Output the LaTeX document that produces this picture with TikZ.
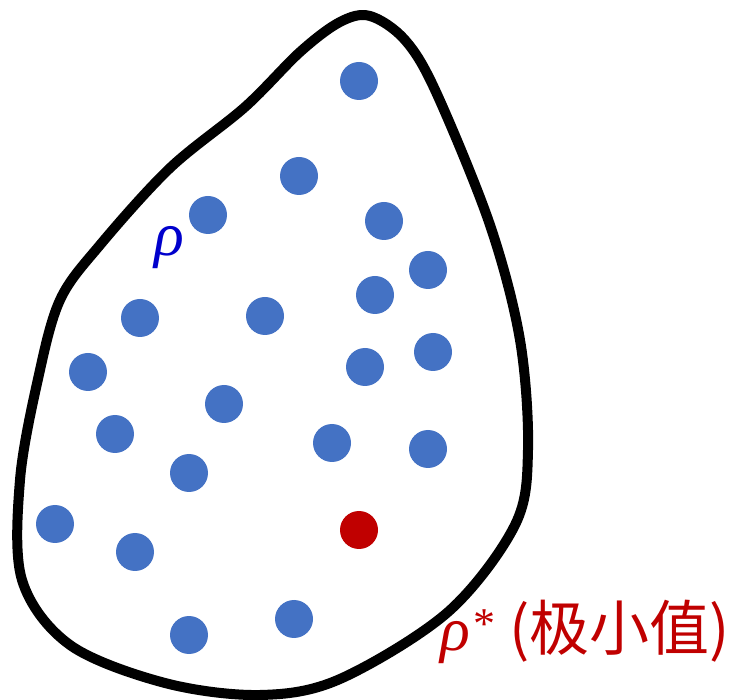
\documentclass[tikz,border=0pt]{standalone}
\usepackage{fontspec}
\newfontfamily\cjk{Noto Sans CJK SC}
\newfontfamily\grk{Liberation Serif}
\definecolor{dotblue}{HTML}{4472C4}
\definecolor{dotred}{HTML}{C00000}
\definecolor{rhoblue}{HTML}{0000CC}
\begin{document}
\begin{tikzpicture}[x=1pt,y=-1pt,
  dot/.style={circle, fill=dotblue, minimum size=38pt, inner sep=0pt},
  reddot/.style={circle, fill=dotred, minimum size=38pt, inner sep=0pt},
  lbl/.style={inner sep=0pt, anchor=base west, font=\fontsize{62}{62}\selectfont}]
\useasboundingbox (0,0) rectangle (737,700);
\draw[line width=10pt, line join=round] plot[smooth cycle, tension=0.55] coordinates {
 (370,16) (405,40) (436,92) (490,225) (520,340) (528,450) (515,525) (448,612)
 (340,679) (260,695) (165,683) (70,645) (22,580) (20,480) (38,379) (60,300)
 (100,245) (170,168) (245,107) (300,52) (340,22)};
\node[dot] (d1) at (359,81) {};
\node[dot] (d2) at (299,176) {};
\node[dot] (d3) at (208,215) {};
\node[dot] (d4) at (384,221) {};
\node[dot] (d5) at (428,270) {};
\node[dot] (d6) at (375,295) {};
\node[dot] (d7) at (140,318) {};
\node[dot] (d8) at (265,316) {};
\node[dot] (d9) at (88,372) {};
\node[dot] (d10) at (433,352) {};
\node[dot] (d11) at (365,367) {};
\node[dot] (d12) at (224,404) {};
\node[dot] (d13) at (115,434) {};
\node[dot] (d14) at (332,443) {};
\node[dot] (d15) at (428,449) {};
\node[dot] (d16) at (189,473) {};
\node[dot] (d17) at (55,524) {};
\node[dot] (d18) at (135,552) {};
\node[reddot] (min) at (359,530) {};
\node[dot] (d20) at (189,635) {};
\node[dot] (d21) at (294,619) {};
\node[lbl, text=rhoblue] (rho) at (154,256) {\grk\itshape ρ};
\node[lbl, text=dotred] (rhostar) at (440,650) {\grk\itshape ρ};
\node[lbl, text=dotred, font=\fontsize{44}{44}\selectfont\grk] (star) at (473,638) {*};
\node[lbl, text=dotred, font=\fontsize{60}{60}\selectfont\cjk] (cn) at (509,650) {(极小值)};
\end{tikzpicture}
\end{document}
